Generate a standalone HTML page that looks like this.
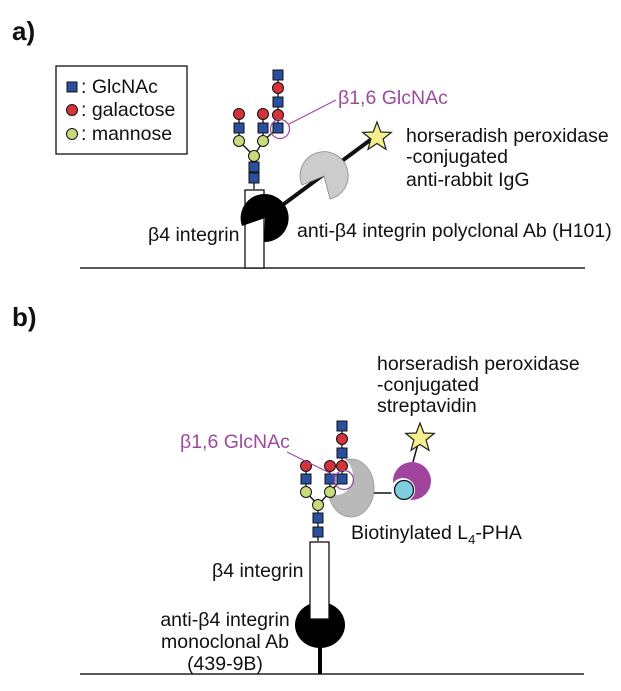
<!DOCTYPE html>
<html><head><meta charset="utf-8"><style>
html,body{margin:0;padding:0;background:#fff}
svg{display:block}
text{font-family:"Liberation Sans",Arial,sans-serif;font-size:19.5px;fill:#111}
</style></head><body>
<svg width="621" height="691" viewBox="0 0 621 691" xmlns="http://www.w3.org/2000/svg">
<defs>
<g id="sq"><rect x="-5" y="-5" width="10" height="10" fill="#2a4f9e" stroke="#111" stroke-width="1"/></g>
<g id="ga"><circle r="5.5" fill="#d2343a" stroke="#111" stroke-width="1"/></g>
<g id="ma"><circle r="5.5" fill="#c8db7a" stroke="#111" stroke-width="1"/></g>
<polygon id="star" points="0,-15 3.8,-5 14.3,-4.6 6.1,2 9,12.4 0,6.5 -9,12.4 -6.1,2 -14.3,-4.6 -3.8,-5" fill="#f6f08c" stroke="#222" stroke-width="1.2"/>
</defs>

<text x="12" y="40" style="font-size:26px;font-weight:bold">a)</text>
<text x="12" y="326" style="font-size:26px;font-weight:bold">b)</text>

<!-- legend -->
<rect x="56" y="66" width="131" height="88" fill="#fff" stroke="#111" stroke-width="1.3"/>
<use href="#sq" x="72" y="87"/><text x="81" y="93">: GlcNAc</text>
<use href="#ga" x="72" y="110"/><text x="81" y="116">: galactose</text>
<use href="#ma" x="72" y="134"/><text x="81" y="140">: mannose</text>

<!-- panel a -->
<line x1="80" y1="268" x2="585" y2="268" stroke="#222" stroke-width="1.5"/>
<rect x="245" y="190" width="19" height="78" fill="#fff" stroke="#111" stroke-width="1.3"/>
<line x1="265" y1="218" x2="377" y2="135" stroke="#111" stroke-width="4"/>
<path d="M265,218 L242,226 A24,24 0 1 1 264,242 Z" fill="#000"/>
<path d="M324,176 L302,185 A24,24 0 1 1 330,199 Z" fill="#ccc" stroke="#888" stroke-width="0.8"/>
<use href="#star" x="377" y="137"/>
<!-- glycan a -->
<g stroke="#111" stroke-width="1.3" fill="none">
<line x1="254" y1="189" x2="254" y2="156"/>
<line x1="254" y1="156" x2="239" y2="141"/><line x1="254" y1="156" x2="263" y2="141"/>
<line x1="239" y1="141" x2="239" y2="113"/><line x1="263" y1="141" x2="263" y2="113"/>
<line x1="263" y1="141" x2="278" y2="128"/><line x1="278" y1="128" x2="278" y2="75"/>
</g>
<use href="#sq" x="254" y="178"/><use href="#sq" x="254" y="167"/><use href="#ma" x="254" y="156"/>
<use href="#ma" x="239" y="141"/><use href="#ma" x="263" y="141"/>
<use href="#sq" x="239" y="128"/><use href="#sq" x="263" y="128"/>
<use href="#ga" x="239" y="114"/><use href="#ga" x="263" y="114"/>
<use href="#sq" x="278" y="128"/><use href="#ga" x="278" y="115"/><use href="#sq" x="278" y="102"/><use href="#ga" x="278" y="88"/><use href="#sq" x="278" y="75"/>
<circle cx="280" cy="129" r="9.5" fill="none" stroke="#9b4a9e" stroke-width="1.2"/>
<line x1="289" y1="124" x2="336" y2="100" stroke="#9b4a9e" stroke-width="1.2"/>
<text x="338" y="104" style="fill:#9b4a9e">β1,6 GlcNAc</text>
<text x="406" y="142">horseradish peroxidase</text>
<text x="406" y="163">-conjugated</text>
<text x="406" y="186">anti-rabbit IgG</text>
<text x="148" y="241">β4 integrin</text>
<text x="297" y="237">anti-β4 integrin polyclonal Ab (H101)</text>

<!-- panel b -->
<line x1="80" y1="674" x2="584" y2="674" stroke="#222" stroke-width="1.5"/>
<line x1="320" y1="645" x2="320" y2="674" stroke="#000" stroke-width="4"/>
<ellipse cx="320" cy="625" rx="25" ry="23" fill="#000"/>
<rect x="310" y="542" width="19" height="77" fill="#fff" stroke="#111" stroke-width="1.3"/>
<!-- lectin -->
<ellipse cx="351" cy="488" rx="23" ry="29" fill="#b9b9b9" stroke="#999" stroke-width="0.8"/>
<ellipse cx="337" cy="476" rx="16" ry="19" fill="#fff"/>
<line x1="374" y1="493" x2="400" y2="493" stroke="#111" stroke-width="1.5"/>
<line x1="413" y1="462" x2="419" y2="440" stroke="#111" stroke-width="1.5"/>
<circle cx="412" cy="481" r="19" fill="#a0449e"/>
<circle cx="403" cy="490" r="12" fill="#fff"/>
<circle cx="404" cy="490" r="9.5" fill="#80cfe0" stroke="#111" stroke-width="1.3"/>
<use href="#star" x="420" y="438"/>
<!-- glycan b -->
<g stroke="#111" stroke-width="1.3" fill="none">
<line x1="318" y1="541" x2="318" y2="505"/>
<line x1="318" y1="505" x2="306" y2="492"/><line x1="318" y1="505" x2="330" y2="492"/>
<line x1="306" y1="492" x2="306" y2="466"/><line x1="330" y1="492" x2="330" y2="466"/>
<line x1="330" y1="492" x2="342" y2="479"/><line x1="342" y1="479" x2="342" y2="426"/>
</g>
<use href="#sq" x="318" y="532"/><use href="#sq" x="318" y="518"/><use href="#ma" x="318" y="505"/>
<use href="#ma" x="306" y="492"/><use href="#ma" x="330" y="492"/>
<use href="#sq" x="306" y="479"/><use href="#sq" x="330" y="479"/>
<use href="#ga" x="306" y="466"/><use href="#ga" x="330" y="466"/>
<use href="#sq" x="342" y="479"/><use href="#ga" x="342" y="466"/><use href="#sq" x="342" y="453"/><use href="#ga" x="342" y="439"/><use href="#sq" x="342" y="426"/>
<circle cx="344" cy="480" r="9.5" fill="none" stroke="#9b4a9e" stroke-width="1.2"/>
<line x1="287" y1="452" x2="336" y2="476" stroke="#9b4a9e" stroke-width="1.2"/>
<text x="180" y="448" style="fill:#9b4a9e">β1,6 GlcNAc</text>
<text x="377" y="370">horseradish peroxidase</text>
<text x="377" y="391">-conjugated</text>
<text x="377" y="412">streptavidin</text>
<text x="351" y="539">Biotinylated L<tspan dy="5" style="font-size:13px">4</tspan><tspan dy="-5">-PHA</tspan></text>
<text x="212" y="577">β4 integrin</text>
<text x="225" y="626" text-anchor="middle">anti-β4 integrin</text>
<text x="225" y="648" text-anchor="middle">monoclonal Ab</text>
<text x="225" y="670" text-anchor="middle">(439-9B)</text>
</svg>
</body></html>
